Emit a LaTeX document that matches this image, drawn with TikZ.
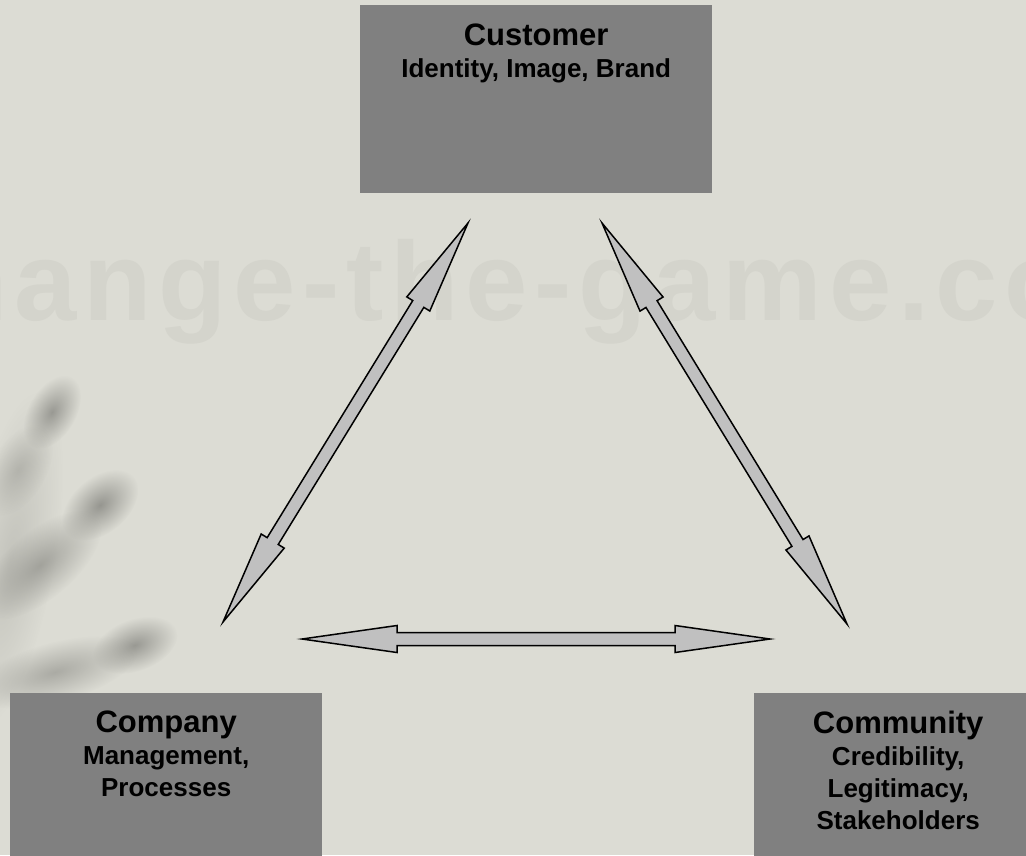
\documentclass[tikz,border=0pt]{standalone}
\usepackage{fontspec}
\setmainfont{Liberation Sans}
\usetikzlibrary{calc,fadings}

\definecolor{paper}{RGB}{220,220,212}
\definecolor{slate}{RGB}{128,128,128}
\definecolor{shaft}{RGB}{192,192,192}
\definecolor{ghost}{RGB}{212,212,204}
\definecolor{palm}{RGB}{150,150,144}

\tikzfading[name=softedge, inner color=transparent!0, outer color=transparent!100]

\newcommand{\boxtitle}[1]{{\fontsize{31pt}{32pt}\selectfont #1}}

% two-headed block arrow between two named points
\newcommand{\fatarrow}[2]{%
  \draw[blockarrow] (#1)
    -- ($(#1)!95pt!(#2)!13.5pt!90:(#2)$) -- ($(#1)!95pt!(#2)!6.5pt!90:(#2)$)
    -- ($(#2)!95pt!(#1)!6.5pt!-90:(#1)$) -- ($(#2)!95pt!(#1)!13.5pt!-90:(#1)$)
    -- (#2)
    -- ($(#2)!95pt!(#1)!13.5pt!90:(#1)$) -- ($(#2)!95pt!(#1)!6.5pt!90:(#1)$)
    -- ($(#1)!95pt!(#2)!6.5pt!-90:(#2)$) -- ($(#1)!95pt!(#2)!13.5pt!-90:(#2)$)
    -- cycle;}

\begin{document}
\begin{tikzpicture}[x=1pt, y=-1pt,
  box/.style={fill=slate, draw=none, inner sep=0pt, anchor=north west},
  boxtext/.style={anchor=north, inner sep=0pt, align=center,
                  font=\bfseries\fontsize{26pt}{32pt}\selectfont},
  blockarrow/.style={draw=black, line width=1.5pt, fill=shaft, line join=miter},
  finger/.style={fill=palm, path fading=softedge}
]
  \useasboundingbox (0,0) rectangle (1026,855);
  \fill[paper] (0,0) rectangle (1026,855);

  % faded hand and lettering in the background
  \begin{scope}
    \clip (0,0) rectangle (1026,855);
    \fill[finger, opacity=.35, transform canvas={shift={(10,560)}, rotate=80}] (0,0) ellipse [x radius=170pt, y radius=45pt];
    \fill[finger, opacity=.95, transform canvas={shift={(52,412)}, rotate=60}] (0,0) ellipse [x radius=40pt, y radius=24pt];
    \fill[finger, opacity=.5, transform canvas={shift={(18,470)}, rotate=60}] (0,0) ellipse [x radius=50pt, y radius=28pt];
    \fill[finger, opacity=1, transform canvas={shift={(100,505)}, rotate=40}] (0,0) ellipse [x radius=44pt, y radius=28pt];
    \fill[finger, opacity=.8, transform canvas={shift={(40,565)}, rotate=40}] (0,0) ellipse [x radius=75pt, y radius=34pt];
    \fill[finger, opacity=.95, transform canvas={shift={(135,645)}, rotate=20}] (0,0) ellipse [x radius=44pt, y radius=26pt];
    \fill[finger, opacity=.7, transform canvas={shift={(55,672)}, rotate=15}] (0,0) ellipse [x radius=85pt, y radius=30pt];
    \node[anchor=base west, inner sep=0pt, text=ghost,
          font=\bfseries\fontsize{112pt}{112pt}\selectfont\addfontfeature{LetterSpace=6}]
      (mark) at (-61,320) {hange-the-game.co};
  \end{scope}

  % the three boxes
  \node[box, minimum width=352pt, minimum height=188pt] (cust) at (360,5) {};
  \node[box, minimum width=312pt, minimum height=180pt] (comp) at (10,693) {};
  \node[box, minimum width=288pt, minimum height=180pt] (comm) at (754,693) {};

  \node[boxtext] (cust-txt) at ([yshift=-18.5pt]cust.north)
    {\boxtitle{Customer}\\ Identity, Image, Brand};
  \node[boxtext] (comp-txt) at ([yshift=-17.5pt]comp.north)
    {\boxtitle{Company}\\ Management,\\ Processes};
  \node[boxtext] (comm-txt) at ([yshift=-17.5pt]comm.north)
    {\boxtitle{Community}\\ Credibility,\\ Legitimacy,\\ Stakeholders};

  % arrow tips
  \coordinate (cust-l) at (468,223);
  \coordinate (cust-r) at (602,223);
  \coordinate (comp-t) at (223,622);
  \coordinate (comm-t) at (847,624);
  \coordinate (comp-r) at (302,639);
  \coordinate (comm-l) at (770,639);

  \fatarrow{cust-l}{comp-t}
  \fatarrow{cust-r}{comm-t}
  \fatarrow{comp-r}{comm-l}
\end{tikzpicture}
\end{document}
